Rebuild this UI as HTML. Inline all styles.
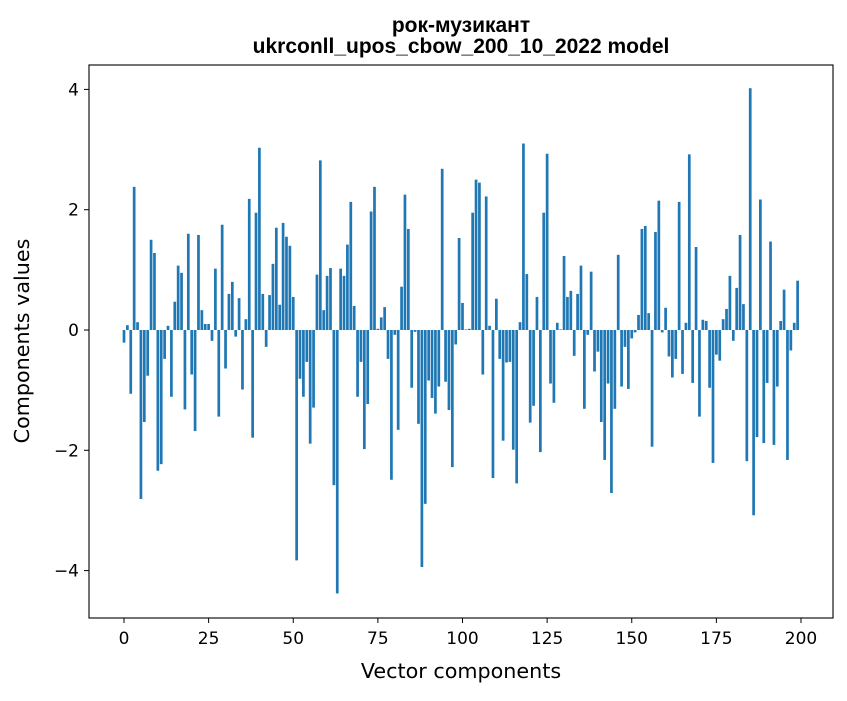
<!DOCTYPE html>
<html><head><meta charset="utf-8"><style>
body{margin:0;background:#fff;}
svg text{font-family:"DejaVu Sans","Liberation Sans",sans-serif;fill:#000;}
svg text.title{font-family:"Liberation Sans","DejaVu Sans",sans-serif;}
</style></head><body>
<svg width="847" height="696" viewBox="0 0 847 696" xmlns="http://www.w3.org/2000/svg">
<rect width="847" height="696" fill="#fff"/>
<text class="title" x="461" y="32" text-anchor="middle" font-size="21" font-weight="bold">рок-музикант</text>
<text class="title" x="461" y="53" text-anchor="middle" font-size="21" font-weight="bold">ukrconll_upos_cbow_200_10_2022 model</text>
<g id="bars"></g>
<g id="axes"></g>
<rect x="89" y="65" width="744" height="553" fill="none" stroke="#000" stroke-width="1.1"/>
<text x="461" y="678" text-anchor="middle" font-size="20.7">Vector components</text>
<text transform="translate(29,341) rotate(-90)" text-anchor="middle" font-size="20.7">Components values</text>
</svg>
<script>
const values = [
-0.21,0.08,-1.06,2.38,0.13,-2.81,-1.53,-0.76,1.5,1.28,
-2.34,-2.23,-0.48,0.07,-1.11,0.47,1.07,0.95,-1.32,1.6,
-0.74,-1.68,1.58,0.33,0.1,0.1,-0.18,1.02,-1.44,1.75,
-0.64,0.6,0.8,-0.11,0.53,-0.99,0.18,2.18,-1.79,1.95,
3.03,0.6,-0.28,0.58,1.1,1.7,0.42,1.78,1.55,1.4,
0.55,-3.83,-0.81,-1.11,-0.53,-1.89,-1.29,0.92,2.82,0.33,
0.9,1.03,-2.58,-4.38,1.02,0.9,1.42,2.13,0.4,-1.11,
-0.53,-1.98,-1.23,1.97,2.38,0.02,0.21,0.38,-0.48,-2.49,
-0.08,-1.66,0.72,2.25,1.68,-0.96,-0.03,-1.56,-3.94,-2.89,
-0.84,-1.13,-1.39,-0.94,2.68,-0.86,-1.33,-2.28,-0.24,1.53,
0.45,0.01,0.02,1.95,2.5,2.45,-0.74,2.22,0.07,-2.46,
0.52,-0.48,-1.84,-0.54,-0.53,-1.99,-2.55,0.13,3.1,0.93,
-1.54,-1.26,0.55,-2.03,1.95,2.93,-0.89,-1.21,0.12,0.01,
1.23,0.55,0.65,-0.43,0.6,1.07,-1.31,-0.08,0.97,-0.69,
-0.36,-1.53,-2.16,-0.89,-2.71,-1.31,1.25,-0.94,-0.28,-0.98,
-0.14,-0.04,0.25,1.68,1.73,0.28,-1.94,1.63,2.15,-0.04,
0.37,-0.44,-0.79,-0.48,2.13,-0.73,0.12,2.92,-0.88,1.38,
-1.44,0.17,0.15,-0.96,-2.21,-0.41,-0.51,0.18,0.35,0.9,
-0.18,0.7,1.58,0.43,-2.18,4.02,-3.08,-1.78,2.17,-1.88,
-0.88,1.47,-1.91,-0.94,0.15,0.67,-2.16,-0.34,0.12,0.82
];
const xTicks = [0,25,50,75,100,125,150,175,200];
const yTicks = [-4,-2,0,2,4];
const yTickLabels = ["\u22124","\u22122","0","2","4"];
const NS="http://www.w3.org/2000/svg";
const xs = v => 124 + v*(677/200);
const ys = v => 330 - v*60.15;
const bars=document.getElementById('bars');
values.forEach((v,i)=>{
  const r=document.createElementNS(NS,'rect');
  const y0=ys(0), y1=ys(v);
  r.setAttribute('x',xs(i-0.4));
  r.setAttribute('width',0.8*677/200);
  r.setAttribute('y',Math.min(y0,y1));
  r.setAttribute('height',Math.abs(y1-y0));
  r.setAttribute('fill','#1f77b4');
  
  
  bars.appendChild(r);
});
const axes=document.getElementById('axes');
xTicks.forEach(t=>{
  const l=document.createElementNS(NS,'line');
  l.setAttribute('x1',xs(t));l.setAttribute('x2',xs(t));
  l.setAttribute('y1',618);l.setAttribute('y2',623);
  l.setAttribute('stroke','#000');
  
  
  axes.appendChild(l);
  const tx=document.createElementNS(NS,'text');
  tx.setAttribute('x',xs(t));tx.setAttribute('y',644);
  tx.setAttribute('text-anchor','middle');tx.setAttribute('font-size','17');
  tx.textContent=t;
  
  
  axes.appendChild(tx);
});
yTicks.forEach((t,k)=>{
  const l=document.createElementNS(NS,'line');
  l.setAttribute('x1',84);l.setAttribute('x2',89);
  l.setAttribute('y1',ys(t));l.setAttribute('y2',ys(t));
  l.setAttribute('stroke','#000');
  
  
  axes.appendChild(l);
  const tx=document.createElementNS(NS,'text');
  tx.setAttribute('x',79);tx.setAttribute('y',ys(t)+6);
  tx.setAttribute('text-anchor','end');tx.setAttribute('font-size','17');
  tx.textContent=yTickLabels[k];
  
  
  axes.appendChild(tx);
});
</script>
</body></html>
